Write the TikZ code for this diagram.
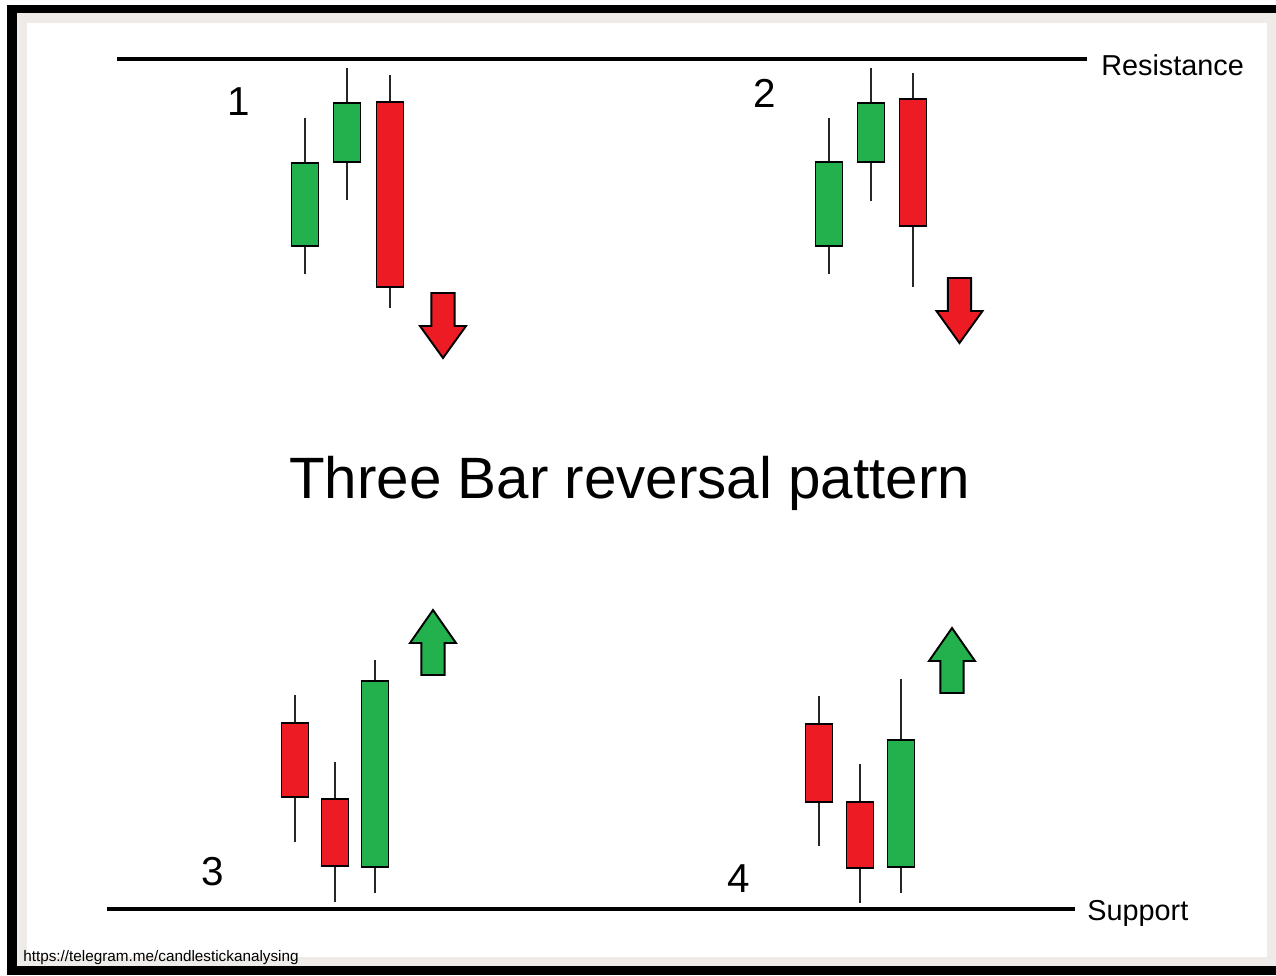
\documentclass[tikz,border=0pt]{standalone}
\usepackage{fontspec}
\setmainfont{Liberation Sans}
\definecolor{bullgreen}{RGB}{34,177,76}
\definecolor{bearred}{RGB}{237,28,36}
\definecolor{framegray}{RGB}{238,235,232}

\begin{document}
\begin{tikzpicture}[x=0.02cm, y=-0.02cm,
    body/.style={draw=black, line width=1.1pt, fill=#1},
    wick/.style={draw=black!85, line width=1.2pt},
    level/.style={draw=black, line width=2pt},
    lbl/.style={inner sep=0pt, anchor=base west, font=\fontsize{16.4}{18}\selectfont},
    num/.style={inner sep=0pt, anchor=base, font=\fontsize{23}{26}\selectfont}]
  \useasboundingbox (0,0) rectangle (1276,975);

  % frame
  \fill[white] (0,0) rectangle (1276,975);
  \fill[black] (7,5) rectangle (1276,975);
  \fill[framegray] (17,13) rectangle (1276,966);
  \fill[white] (27,23) rectangle (1267,957);

  % resistance and support
  \node[lbl] (res) at (1101,75) {Resistance};
  \node[lbl] (sup) at (1087,920) {Support};
  \coordinate (resL) at (117,59);
  \coordinate (resR) at (1087,59);
  \coordinate (supL) at (107,909);
  \coordinate (supR) at (1075,909);
  \draw[level] (resL) -- (resR);
  \draw[level] (supL) -- (supR);

  % candles: x / high / open-close top / open-close bottom / low / colour
  \foreach \cx/\hi/\bt/\bb/\lo/\col in {
      305/118/163/246/274/bullgreen, 347/68/103/162/200/bullgreen, 390/75/102/287/308/bearred,
      829/118/162/246/274/bullgreen, 871/68/103/162/201/bullgreen, 913/73/99/226/287/bearred,
      295/695/723/797/842/bearred, 335/762/799/866/902/bearred, 375/660/681/867/893/bullgreen,
      819/696/724/802/846/bearred, 860/764/802/868/903/bearred, 901/679/740/867/893/bullgreen}{
    \draw[wick] (\cx,\hi) -- (\cx,\lo);
    \draw[body=\col] (\cx-13.5,\bt) rectangle (\cx+13.5,\bb);
  }

  % arrows: x / tail / head base / tip / colour
  \foreach \ax/\tl/\hb/\tp/\col in {
      443/293/326/358/bearred, 959.5/278/311/343/bearred,
      433/675/643/610/bullgreen, 952/693/661/628/bullgreen}{
    \draw[body=\col] (\ax-11.7,\tl) -- (\ax+11.7,\tl) -- (\ax+11.7,\hb) -- (\ax+23,\hb)
      -- (\ax,\tp) -- (\ax-23,\hb) -- (\ax-11.7,\hb) -- cycle;
  }

  % pattern numbers
  \node[num] (n1) at (239,115) {1};
  \node[num] (n2) at (765,107) {2};
  \node[num] (n3) at (213,885) {3};
  \node[num] (n4) at (739,892) {4};

  % title
  \node[inner sep=0pt, anchor=base west, font=\fontsize{33.2}{36}\selectfont] (title) at (289,498)
    {Three Bar reversal pattern};

  \node[inner sep=0pt, anchor=base west, font=\fontsize{8.7}{10}\selectfont] (url) at (23,961)
    {https://telegram.me/candlestickanalysing};
\end{tikzpicture}
\end{document}
